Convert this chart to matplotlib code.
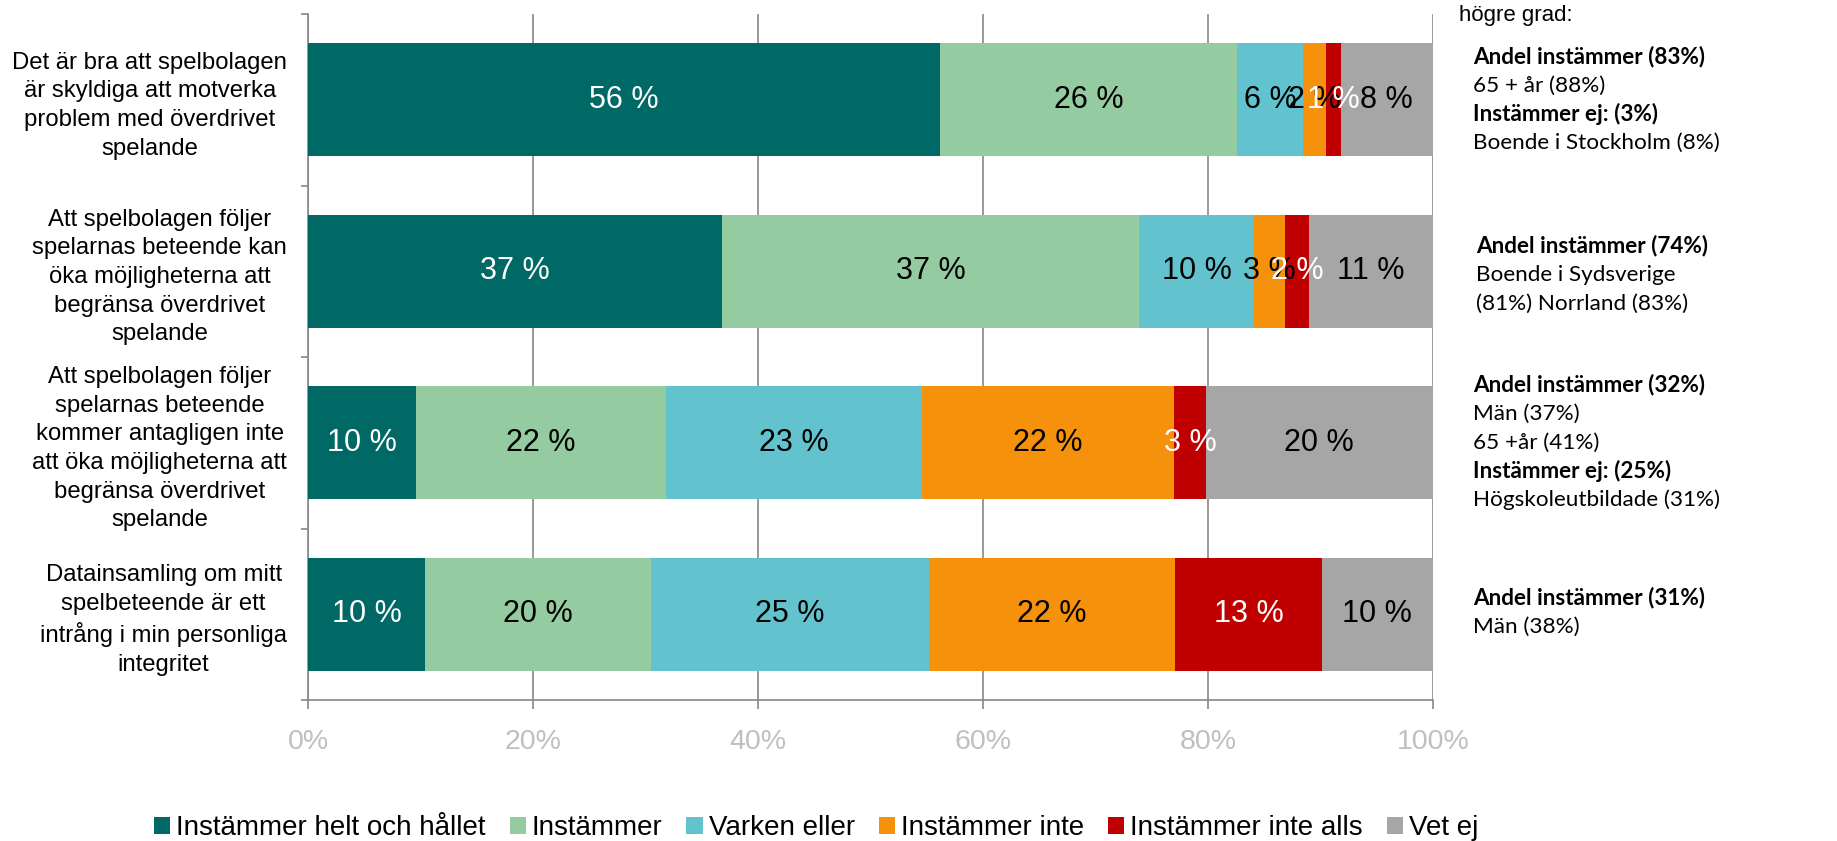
import matplotlib
matplotlib.use("Agg")
import matplotlib.pyplot as plt
from matplotlib.patches import Patch
import numpy as np

W, H = 1837, 841

categories = [
    "Det är bra att spelbolagen\när skyldiga att motverka\nproblem med överdrivet\nspelande",
    "Att spelbolagen följer\nspelarnas beteende kan\nöka möjligheterna att\nbegränsa överdrivet\nspelande",
    "Att spelbolagen följer\nspelarnas beteende\nkommer antagligen inte\natt öka möjligheterna att\nbegränsa överdrivet\nspelande",
    "Datainsamling om mitt\nspelbeteende är ett\nintrång i min personliga\nintegritet",
]
series_names = ["Instämmer helt och hållet", "Instämmer", "Varken eller",
                "Instämmer inte", "Instämmer inte alls", "Vet ej"]
helt = [56.2, 36.8, 9.6, 10.4]
instammer = [26.4, 37.1, 22.2, 20.1]
varken = [5.8, 10.2, 22.8, 24.7]
inte = [2.1, 2.7, 22.4, 21.9]
inte_alls = [1.3, 2.2, 2.8, 13.0]
vet_ej = [8.2, 11.0, 20.2, 9.9]
series_values = [helt, instammer, varken, inte, inte_alls, vet_ej]
colors = ["#006865", "#94CBA0", "#62C3CF", "#F5910A", "#C00000", "#A6A6A6"]
label_colors = ["white", "black", "black", "black", "white", "black"]
xticks = [0, 20, 40, 60, 80, 100]
xtick_labels = ["0%", "20%", "40%", "60%", "80%", "100%"]

annotation_header = "högre grad:"
annotations = [
    [("Andel instämmer (83%)", True), ("65 + år (88%)", False),
     ("Instämmer ej: (3%)", True), ("Boende i Stockholm (8%)", False)],
    [("Andel instämmer (74%)", True), ("Boende i Sydsverige", False),
     ("(81%) Norrland (83%)", False)],
    [("Andel instämmer (32%)", True), ("Män (37%)", False), ("65 +år (41%)", False),
     ("Instämmer ej: (25%)", True), ("Högskoleutbildade (31%)", False)],
    [("Andel instämmer (31%)", True), ("Män (38%)", False)],
]

plt.rcParams['font.family'] = ['Liberation Sans', 'DejaVu Sans']

fig = plt.figure(figsize=(W / 100, H / 100), dpi=100)

def fx(px):
    return px / W

def fy(py):
    return 1 - py / H

ax_l, ax_r, ax_t, ax_b = 308, 1433, 14, 700
ax = fig.add_axes([fx(ax_l), fy(ax_b), (ax_r - ax_l) / W, (ax_b - ax_t) / H])

ypos = np.arange(len(categories))
left = np.zeros(len(categories))
for name, vals, c, lc in zip(series_names, series_values, colors, label_colors):
    vals = np.array(vals)
    bars = ax.barh(ypos, vals, left=left, height=0.66, color=c, label=name, zorder=3)
    ax.bar_label(bars, labels=[f"{round(v)} %" for v in vals], label_type='center',
                 color=lc, fontsize=22, zorder=5)
    left += vals

ax.set_xlim(0, 100)
ax.set_ylim(len(categories) - 0.5, -0.5)

gridc = "#878787"
for s in ["top", "right"]:
    ax.spines[s].set_visible(False)
for s in ["left", "bottom"]:
    ax.spines[s].set_color(gridc)
    ax.spines[s].set_linewidth(1.2)
ax.set_xticks(xticks)
ax.set_xticklabels(xtick_labels)
ax.xaxis.grid(True, color=gridc, linewidth=1.2, zorder=0)
ax.tick_params(axis='x', colors=gridc, labelcolor="#BFBFBF", labelsize=20.5,
               length=6.5, width=1.2, pad=14.5)

ax.set_yticks(ypos)
ax.set_yticklabels(categories, fontsize=17.2, multialignment='center', linespacing=1.39)
ax.set_yticks(np.arange(-0.5, len(categories), 1.0), minor=True)
ax.tick_params(axis='y', which='major', length=0, pad=15)
ax.tick_params(axis='y', which='minor', length=5, width=1.2, colors=gridc)

# right-hand annotations
fig.text(fx(1459), fy(15), annotation_header, fontsize=16, va='center', ha='left')
block_x = [1473, 1476, 1473, 1473]
block_y0 = [57, 246, 385, 598]
line_h = 28.7
for bx, by, lines in zip(block_x, block_y0, annotations):
    for i, (txt, bold) in enumerate(lines):
        fig.text(fx(bx), fy(by + i * line_h), txt, fontsize=16.2,
                 family=['Lato', 'DejaVu Sans'],
                 fontweight='bold' if bold else 'normal', va='center', ha='left')

handles = [Patch(facecolor=c, edgecolor='none') for c in colors]
fig.legend(handles, series_names, loc='center left', bbox_to_anchor=(fx(154), fy(828)),
           ncol=6, frameon=False, fontsize=20, handlelength=0.58, handleheight=0.58,
           handletextpad=0.22, columnspacing=0.86, borderpad=0, borderaxespad=0)

fig.savefig("out.png", dpi=100)
